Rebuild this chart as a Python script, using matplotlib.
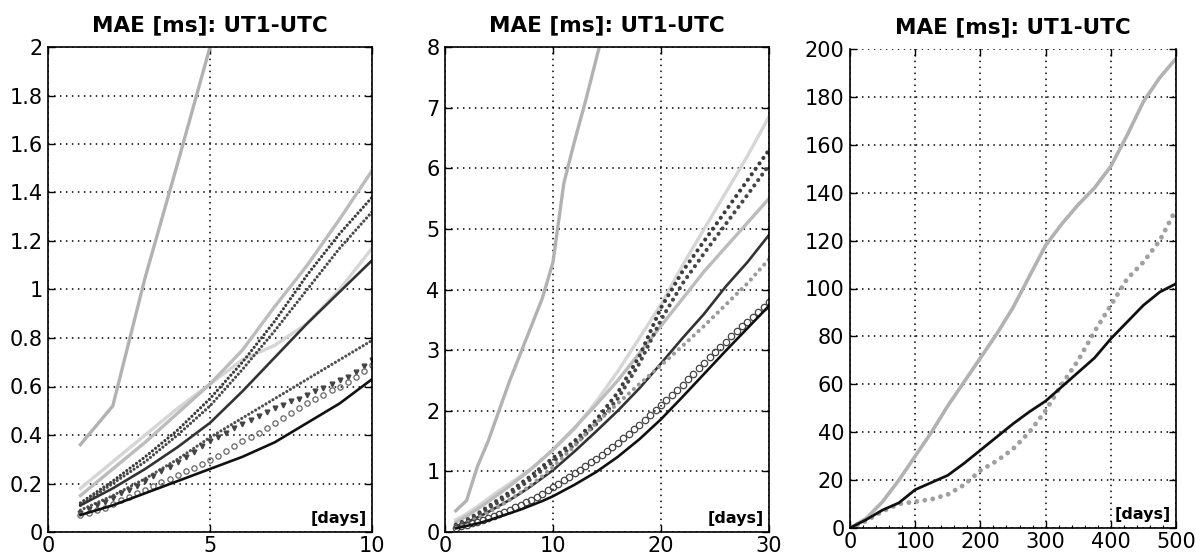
import numpy as np
import matplotlib
matplotlib.use("Agg")
import matplotlib.pyplot as plt
from matplotlib.ticker import FuncFormatter, MultipleLocator

plt.rcParams['font.family'] = ['DejaVu Sans']
plt.rcParams['lines.scale_dashes'] = False
plt.rcParams['xtick.direction'] = 'in'
plt.rcParams['ytick.direction'] = 'in'
plt.rcParams['xtick.top'] = True
plt.rcParams['ytick.right'] = True

TITLE = "MAE [ms]: UT1-UTC"
XLABEL = "[days]"

# ---------------- Panel 1 (1..10 days) ----------------
p1_days = [1, 2, 3, 4, 5, 6, 7, 8, 9, 10]
p1_gray_steep = [0.36, 0.52, 1.05, 1.52, 2.0, 2.5, 2.95, 3.4, 3.85, 4.45]
p1_light = [0.18, 0.29, 0.40, 0.51, 0.61, 0.71, 0.77, 0.86, 1.00, 1.17]
p1_gray = [0.15, 0.26, 0.37, 0.49, 0.61, 0.75, 0.93, 1.10, 1.29, 1.49]
p1_dots_a = [0.12, 0.21, 0.31, 0.42, 0.55, 0.70, 0.87, 1.06, 1.23, 1.38]
p1_dots_b = [0.11, 0.20, 0.29, 0.40, 0.52, 0.67, 0.83, 1.00, 1.17, 1.32]
p1_dark = [0.11, 0.18, 0.26, 0.35, 0.45, 0.58, 0.72, 0.86, 0.99, 1.12]
p1_dots_c = [0.09, 0.15, 0.22, 0.30, 0.39, 0.47, 0.55, 0.63, 0.71, 0.79]
p1_black = [0.07, 0.11, 0.16, 0.21, 0.26, 0.31, 0.37, 0.45, 0.53, 0.63]
p1_fine_days = [1.0, 1.25, 1.5, 1.75, 2.0, 2.25, 2.5, 2.75, 3.0, 3.25, 3.5, 3.75,
                4.0, 4.25, 4.5, 4.75, 5.0, 5.25, 5.5, 5.75, 6.0, 6.25, 6.5, 6.75,
                7.0, 7.25, 7.5, 7.75, 8.0, 8.25, 8.5, 8.75, 9.0, 9.25, 9.5, 9.75, 10.0]
p1_triangles = [0.08, 0.095, 0.11, 0.125, 0.14, 0.16, 0.175, 0.19, 0.21, 0.23, 0.25, 0.27,
                0.29, 0.31, 0.33, 0.355, 0.375, 0.39, 0.41, 0.43, 0.445, 0.46, 0.48, 0.495,
                0.51, 0.525, 0.54, 0.55, 0.565, 0.58, 0.595, 0.61, 0.625, 0.64, 0.66, 0.685, 0.71]
p1_circles = [0.07, 0.08, 0.09, 0.10, 0.115, 0.13, 0.145, 0.16, 0.175, 0.19, 0.205, 0.22,
              0.235, 0.25, 0.265, 0.28, 0.295, 0.315, 0.335, 0.355, 0.375, 0.39, 0.41, 0.43,
              0.45, 0.47, 0.49, 0.51, 0.53, 0.55, 0.565, 0.585, 0.60, 0.62, 0.64, 0.665, 0.69]

# ---------------- Panel 2 (1..30 days) ----------------
p2_steep_days = [1, 2, 3, 4, 5, 6, 7, 8, 9, 10, 11, 12, 13, 14, 15]
p2_gray_steep = [0.35, 0.52, 1.08, 1.5, 2.0, 2.5, 2.95, 3.4, 3.85, 4.45, 5.75, 6.45, 7.1, 7.8, 8.5]
p2_days = [1, 2, 3, 4, 5, 6, 7, 8, 9, 10, 12, 14, 16, 18, 20, 22, 24, 26, 28, 30]
p2_light = [0.2, 0.3, 0.42, 0.55, 0.68, 0.8, 0.92, 1.05, 1.2, 1.35, 1.7, 2.15, 2.65, 3.2, 3.75, 4.4, 5.0, 5.6, 6.2, 6.85]
p2_gray = [0.16, 0.26, 0.38, 0.5, 0.63, 0.76, 0.9, 1.04, 1.2, 1.36, 1.72, 2.1, 2.5, 2.95, 3.4, 3.85, 4.3, 4.7, 5.1, 5.5]
p2_dots_a = [0.12, 0.2, 0.3, 0.42, 0.54, 0.66, 0.8, 0.93, 1.08, 1.22, 1.5, 1.85, 2.3, 2.9, 3.7, 4.3, 4.8, 5.3, 5.8, 6.3]
p2_dots_b = [0.11, 0.19, 0.28, 0.39, 0.5, 0.62, 0.75, 0.88, 1.02, 1.16, 1.44, 1.78, 2.2, 2.78, 3.5, 4.1, 4.6, 5.08, 5.56, 6.05]
p2_dark = [0.09, 0.16, 0.24, 0.33, 0.43, 0.53, 0.64, 0.76, 0.89, 1.02, 1.33, 1.66, 2.0, 2.37, 2.78, 3.2, 3.6, 4.05, 4.45, 4.9]
p2_dots_c = [0.09, 0.15, 0.23, 0.32, 0.42, 0.53, 0.65, 0.78, 0.92, 1.07, 1.42, 1.8, 2.12, 2.44, 2.75, 3.07, 3.4, 3.75, 4.1, 4.5]
p2_black = [0.06, 0.1, 0.14, 0.19, 0.25, 0.31, 0.37, 0.44, 0.51, 0.59, 0.78, 0.99, 1.24, 1.53, 1.86, 2.23, 2.61, 2.99, 3.36, 3.73]
p2_circle_days = [1, 1.5, 2, 2.5, 3, 3.5, 4, 4.5, 5, 5.5, 6, 6.5, 7, 7.5, 8, 8.5, 9, 9.5, 10,
                  10.5, 11, 11.5, 12, 12.5, 13, 13.5, 14, 14.5, 15, 15.5, 16, 16.5, 17, 17.5,
                  18, 18.5, 19, 19.5, 20, 20.5, 21, 21.5, 22, 22.5, 23, 23.5, 24, 24.5, 25,
                  25.5, 26, 26.5, 27, 27.5, 28, 28.5, 29, 29.5, 30]
p2_circles = [0.07, 0.095, 0.12, 0.145, 0.17, 0.2, 0.23, 0.265, 0.30, 0.335, 0.37, 0.41, 0.45,
              0.49, 0.53, 0.58, 0.63, 0.685, 0.74, 0.795, 0.85, 0.91, 0.97, 1.03, 1.09, 1.15,
              1.21, 1.275, 1.34, 1.405, 1.47, 1.545, 1.62, 1.695, 1.77, 1.85, 1.93, 2.01, 2.09,
              2.175, 2.26, 2.345, 2.43, 2.52, 2.61, 2.7, 2.79, 2.88, 2.97, 3.055, 3.14, 3.225,
              3.31, 3.39, 3.47, 3.55, 3.63, 3.715, 3.80]

# ---------------- Panel 3 (0..500 days) ----------------
p3_days = [0, 25, 50, 75, 100, 125, 150, 175, 200, 225, 250, 275, 300, 325, 350, 375, 400, 425, 450, 475, 500]
p3_gray = [0, 4, 11, 20, 30, 40, 51, 61, 71, 81, 92, 105, 118, 127, 135, 142, 151, 164, 178, 188, 196]
p3_black = [0, 3.5, 7.5, 10.5, 16, 19, 22, 27, 32.5, 38, 43.5, 48.5, 53, 59, 65, 71, 79, 86, 93, 98.5, 102]
p3_dots = [0, 3, 7, 10, 11, 12, 14, 18, 24, 28, 33, 40, 49, 60, 70, 82, 93, 104, 111, 120, 133]

W, H = 1204, 558
fig = plt.figure(figsize=(W / 100, H / 100), dpi=100)

def px_axes(l, r, t, b):
    return fig.add_axes([l / W, 1 - b / H, (r - l) / W, (b - t) / H])

ax1 = px_axes(48, 372, 47, 532)
ax2 = px_axes(445, 769, 47, 532)
ax3 = px_axes(850, 1176, 49, 528)

GRID_KW = dict(color='black', linewidth=1.1, linestyle=(0, (1.1, 3.2)))
C_STEEP = '#b2b2b2'
C_LIGHT = '#d6d6d6'
C_GRAY = '#bcbcbc'
C_DOTS = '#3c3c3c'
C_DARK = '#333333'
C_BLACK = '#111111'

def dotted(ax, x, y, color, size, gap):
    ax.plot(x, y, color=color, linewidth=size, linestyle=(0, (0.01, gap)),
            dash_capstyle='round', solid_capstyle='round')

# Panel 1
ax1.plot(p1_days, p1_gray_steep, color=C_STEEP, lw=2.4)
ax1.plot(p1_days, p1_light, color=C_LIGHT, lw=2.4)
ax1.plot(p1_days, p1_gray, color=C_GRAY, lw=2.4)
dotted(ax1, p1_days, p1_dots_a, C_DOTS, 2.3, 2.9)
dotted(ax1, p1_days, p1_dots_b, '#4a4a4a', 2.3, 2.9)
ax1.plot(p1_days, p1_dark, color=C_DARK, lw=1.9)
dotted(ax1, p1_days, p1_dots_c, '#505050', 2.3, 2.9)
ax1.plot(p1_fine_days, p1_triangles, linestyle='none', marker='v', ms=3.4,
         color='#444444', mec='#444444')
ax1.plot(p1_fine_days, p1_circles, linestyle='none', marker='o', ms=3.8,
         mfc='none', mec='#666666', mew=0.9)
ax1.plot(p1_days, p1_black, color=C_BLACK, lw=1.9)

# Panel 2
ax2.plot(p2_steep_days, p2_gray_steep, color=C_STEEP, lw=2.4)
ax2.plot(p2_days, p2_light, color=C_LIGHT, lw=2.4)
ax2.plot(p2_days, p2_gray, color=C_GRAY, lw=2.4)
dotted(ax2, p2_days, p2_dots_a, C_DOTS, 3.0, 4.8)
dotted(ax2, p2_days, p2_dots_b, '#474747', 3.0, 4.8)
ax2.plot(p2_days, p2_dark, color=C_DARK, lw=1.9)
dotted(ax2, p2_days, p2_dots_c, '#9a9a9a', 3.0, 4.8)
ax2.plot(p2_circle_days, p2_circles, linestyle='none', marker='o', ms=4.6,
         mfc='none', mec='#444444', mew=0.9)
ax2.plot(p2_days, p2_black, color=C_BLACK, lw=1.9)

# Panel 3
ax3.plot(p3_days, p3_gray, color=C_STEEP, lw=2.6)
dotted(ax3, p3_days, p3_dots, '#a0a0a0', 3.5, 5.8)
ax3.plot(p3_days, p3_black, color=C_BLACK, lw=2.0)

fmt = FuncFormatter(lambda v, p: ('%g' % round(v, 6)))

def style(ax, xlim, xstep, ylim, ystep):
    ax.set_xlim(*xlim)
    ax.set_ylim(*ylim)
    ax.xaxis.set_major_locator(MultipleLocator(xstep))
    ax.yaxis.set_major_locator(MultipleLocator(ystep))
    ax.xaxis.set_major_formatter(fmt)
    ax.yaxis.set_major_formatter(fmt)
    ax.grid(True, **GRID_KW)
    ax.set_axisbelow(True)
    ax.tick_params(axis='both', which='major', length=5, width=1.0, labelsize=15, pad=4)
    ax.tick_params(axis='x', pad=3)
    for s in ax.spines.values():
        s.set_linewidth(1.2)
        s.set_color('black')
    ax.set_title(TITLE, fontsize=15.5, fontweight='bold', pad=11)
    ax.text(0.985, 0.012, XLABEL, transform=ax.transAxes, ha='right', va='bottom',
            fontsize=11.5, fontweight='bold', zorder=5)

style(ax1, (0, 10), 5, (0, 2), 0.2)
style(ax2, (0, 30), 10, (0, 8), 1)
style(ax3, (0, 500), 100, (0, 200), 20)
ax3.spines['top'].set_visible(False)
ax3.xaxis.set_minor_locator(MultipleLocator(20))
ax3.tick_params(axis='x', which='minor', length=2.5, width=0.8, top=False)

fig.savefig('out.png', dpi=100)
